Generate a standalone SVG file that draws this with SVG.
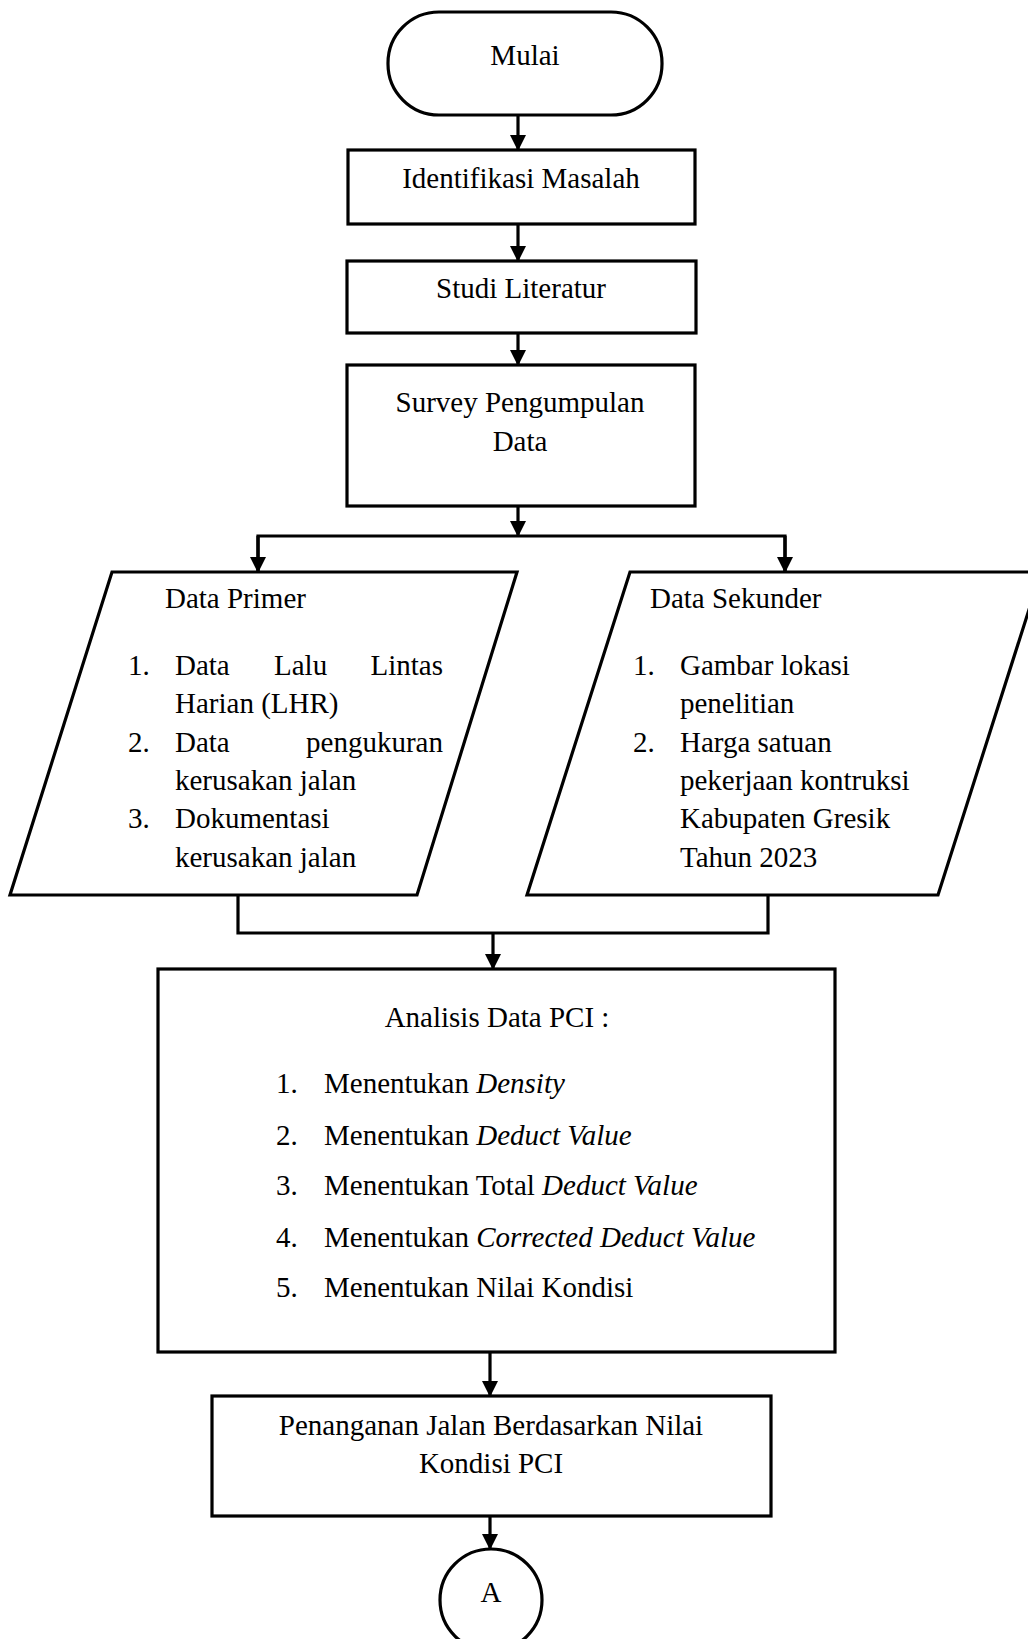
<svg xmlns="http://www.w3.org/2000/svg" width="1028" height="1639" viewBox="0 0 1028 1639">
<style>
.s{fill:#fff;stroke:#000;stroke-width:3.2}
.t{font-family:"Liberation Serif","Times New Roman",serif;font-size:29px;fill:#000}
.c{text-anchor:middle}
.e{text-anchor:end}
.i{font-style:italic}
.conn{fill:none;stroke:#000;stroke-width:3.2}
</style>
<defs>
<marker id="ah" markerUnits="userSpaceOnUse" markerWidth="16" markerHeight="16" refX="15" refY="8" orient="auto">
<path d="M0,0 L16,8 L0,16 z" fill="#000"/>
</marker>
</defs>
<rect width="1028" height="1639" fill="#fff"/>

<g id="connectors">
<line class="conn" x1="518" y1="115" x2="518" y2="150" marker-end="url(#ah)"/>
<line class="conn" x1="518" y1="224" x2="518" y2="261" marker-end="url(#ah)"/>
<line class="conn" x1="518" y1="333" x2="518" y2="365" marker-end="url(#ah)"/>
<line class="conn" x1="518" y1="506" x2="518" y2="536" marker-end="url(#ah)"/>
<polyline class="conn" points="258,572 258,536 785,536 785,572"/>
<line class="conn" x1="258" y1="536" x2="258" y2="572" marker-end="url(#ah)"/>
<line class="conn" x1="785" y1="536" x2="785" y2="572" marker-end="url(#ah)"/>
<polyline class="conn" points="238,895 238,933 768,933 768,895"/>
<line class="conn" x1="493" y1="933" x2="493" y2="969" marker-end="url(#ah)"/>
<line class="conn" x1="490" y1="1352" x2="490" y2="1396" marker-end="url(#ah)"/>
<line class="conn" x1="490" y1="1516" x2="490" y2="1549" marker-end="url(#ah)"/>
</g>

<g id="mulai">
<rect class="s" x="388" y="12" width="274" height="103" rx="51" ry="51"/>
<text class="t c" x="525" y="65">Mulai</text>
</g>

<g id="identifikasi">
<rect class="s" x="348" y="150" width="347" height="74"/>
<text class="t c" x="521" y="188">Identifikasi  Masalah</text>
</g>

<g id="studi">
<rect class="s" x="347" y="261" width="349" height="72"/>
<text class="t c" x="521" y="298">Studi Literatur</text>
</g>

<g id="survey">
<rect class="s" x="347" y="365" width="348" height="141"/>
<text class="t c" x="520" y="412">Survey Pengumpulan</text>
<text class="t c" x="520" y="451">Data</text>
</g>

<g id="data-primer">
<polygon class="s" points="112,572 517,572 417,895 10,895"/>
<text class="t" x="165" y="608">Data Primer</text>
<text class="t" x="128" y="675">1.</text>
<text class="t" x="175" y="675">Data</text>
<text class="t" x="274" y="675">Lalu</text>
<text class="t e" x="443" y="675">Lintas</text>
<text class="t" x="175" y="713">Harian (LHR)</text>
<text class="t" x="128" y="752">2.</text>
<text class="t" x="175" y="752">Data</text>
<text class="t e" x="443" y="752">pengukuran</text>
<text class="t" x="175" y="790">kerusakan jalan</text>
<text class="t" x="128" y="828">3.</text>
<text class="t" x="175" y="828">Dokumentasi</text>
<text class="t" x="175" y="867">kerusakan jalan</text>
</g>

<g id="data-sekunder">
<polygon class="s" points="630,572 1041,572 938,895 527,895"/>
<text class="t" x="650" y="608">Data Sekunder</text>
<text class="t" x="633" y="675">1.</text>
<text class="t" x="680" y="675">Gambar lokasi</text>
<text class="t" x="680" y="713">penelitian</text>
<text class="t" x="633" y="752">2.</text>
<text class="t" x="680" y="752">Harga satuan</text>
<text class="t" x="680" y="790">pekerjaan kontruksi</text>
<text class="t" x="680" y="828">Kabupaten Gresik</text>
<text class="t" x="680" y="867">Tahun 2023</text>
</g>

<g id="analisis-pci">
<rect class="s" x="158" y="969" width="677" height="383"/>
<text class="t c" x="497" y="1027">Analisis  Data PCI :</text>
<text class="t" x="276" y="1093">1.</text>
<text class="t" x="324" y="1093">Menentukan <tspan class="i">Density</tspan></text>
<text class="t" x="276" y="1145">2.</text>
<text class="t" x="324" y="1145">Menentukan <tspan class="i">Deduct  Value</tspan></text>
<text class="t" x="276" y="1195">3.</text>
<text class="t" x="324" y="1195">Menentukan Total <tspan class="i">Deduct Value</tspan></text>
<text class="t" x="276" y="1247">4.</text>
<text class="t" x="324" y="1247">Menentukan <tspan class="i">Corrected Deduct Value</tspan></text>
<text class="t" x="276" y="1297">5.</text>
<text class="t" x="324" y="1297">Menentukan Nilai  Kondisi</text>
</g>

<g id="penanganan">
<rect class="s" x="212" y="1396" width="559" height="120"/>
<text class="t c" x="491" y="1435">Penanganan Jalan Berdasarkan Nilai</text>
<text class="t c" x="491" y="1473">Kondisi PCI</text>
</g>

<g id="konektor-a">
<circle class="s" cx="491" cy="1600" r="51"/>
<text class="t c" x="491" y="1602">A</text>
</g>
</svg>
